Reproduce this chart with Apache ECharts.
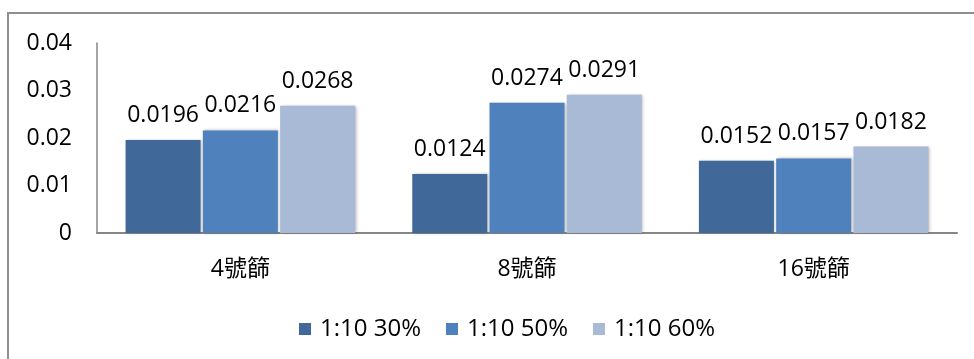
<!DOCTYPE html>
<html>
<head>
<meta charset="utf-8">
<script src="https://cdn.jsdelivr.net/npm/echarts@6/dist/echarts.min.js"></script>
<style>html,body{margin:0;padding:0;background:#fff;}#c{width:974px;height:359px;}</style>
</head>
<body>
<div id="c"></div>
<script>
const categories = ['4號篩', '8號篩', '16號篩'];
const seriesNames = ['1:10 30%', '1:10 50%', '1:10 60%'];
const s30 = [0.0196, 0.0124, 0.0152];
const s50 = [0.0216, 0.0274, 0.0157];
const s60 = [0.0268, 0.0291, 0.0182];
const yTicks = [0, 0.01, 0.02, 0.03, 0.04];
const colors = ['#40699A', '#4F81BD', '#A9BAD7'];
const FONT = '"Open Sans", "Noto Sans CJK TC", sans-serif';

const chart = echarts.init(document.getElementById('c'));
const mk = (name, data, i) => ({
  name, type: 'bar', data, barWidth: 75, barGap: '3%',
  itemStyle: { color: colors[i], shadowColor: 'rgba(0,0,0,0.28)', shadowBlur: 3, shadowOffsetX: 1.5, shadowOffsetY: 0 },
  label: { show: true, position: 'top', distance: 13, color: '#000', fontSize: 23, fontFamily: FONT,
           formatter: p => String(p.value) }
});
chart.setOption({
  animation: false,
  backgroundColor: '#fff',
  graphic: [{ type: 'rect', shape: { x: 8, y: 13, width: 1100, height: 500 },
              style: { fill: 'none', stroke: '#8f8f8f', lineWidth: 2 }, silent: true }],
  grid: { left: 97, right: 17, top: 43, bottom: 126 },
  legend: {
    data: seriesNames, top: 312, left: 294, itemWidth: 12, itemHeight: 12, itemGap: 25,
    icon: 'rect', textStyle: { fontSize: 24, fontFamily: FONT, color: '#000', padding: [0, 0, 0, 4] }
  },
  xAxis: {
    type: 'category', data: categories,
    axisLine: { lineStyle: { color: '#868686', width: 2 } },
    axisTick: { show: false },
    axisLabel: { fontSize: 23, fontFamily: FONT, color: '#000', margin: 25 }
  },
  yAxis: {
    type: 'value', min: 0, max: 0.04, interval: 0.01,
    axisLine: { show: true, lineStyle: { color: '#868686', width: 1.5 } },
    axisTick: { show: false },
    splitLine: { show: false },
    axisLabel: { fontSize: 23, fontFamily: FONT, color: '#000', margin: 25,
                 formatter: v => { const t = yTicks.find(x => Math.abs(x - v) < 1e-9); return String(t !== undefined ? t : v); } }
  },
  series: [mk(seriesNames[0], s30, 0), mk(seriesNames[1], s50, 1), mk(seriesNames[2], s60, 2)]
});
</script>
</body>
</html>
